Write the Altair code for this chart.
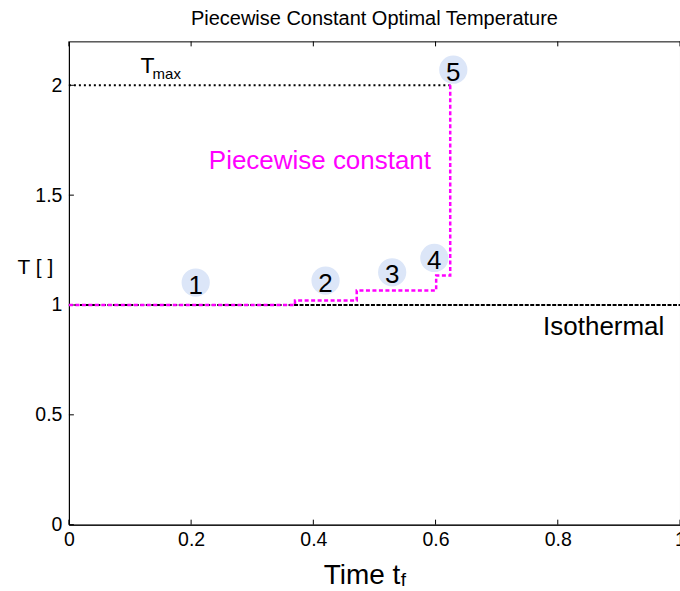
import altair as alt
import pandas as pd

# ---- data ----
step_x = [0.0, 0.37, 0.471, 0.601, 0.624, 0.627]
step_y = [1.0, 1.02, 1.066, 1.134, 2.0, 2.0]

iso_x = [0.0, 1.0]
iso_y = [1.0, 1.0]

tmax_x = [0.0, 0.626]
tmax_y = [2.0, 2.0]

circle_labels = ["1", "2", "3", "4", "5"]
circle_x = [0.2075, 0.42, 0.529, 0.598, 0.629]
circle_y = [1.102, 1.111, 1.149, 1.214, 2.071]

x_ticks = [0, 0.2, 0.4, 0.6, 0.8, 1.0]
y_ticks = [0, 0.5, 1.0, 1.5, 2.0]

ann_text = ["Piecewise constant", "Isothermal"]
ann_x = [0.229, 0.776]
ann_y = [1.619, 0.862]
ann_color = ["#ff00ff", "#000000"]

tmax_main = ["T"]
tmax_sub = ["max"]
tmax_label_x = [0.117]
tmax_label_y = [2.054]
tmax_sub_x = [0.137]
tmax_sub_y = [2.027]

xsub_text = ["f"]
xsub_x = [0.543]

FONT = "Liberation Sans"
W, H = 612, 484

xs = alt.Scale(domain=[0, 1], nice=False, zero=False)
ys = alt.Scale(domain=[0, 2.2], nice=False, zero=False)

x_axis = alt.Axis(
    values=x_ticks, format="~g", ticks=False, labelFont=FONT, labelFontSize=19.5,
    labelColor="black", labelPadding=6, labelFlush=False, domainColor="black", grid=False,
    title="Time t", titleFont=FONT, titleFontSize=28, titleFontWeight="normal",
    titleColor="black", titleX=293, titleY=59, titleBaseline="alphabetic",
    titleAlign="center")
y_axis = alt.Axis(
    values=y_ticks, format="~g", ticks=False, labelFont=FONT, labelFontSize=19.5,
    labelColor="black", labelPadding=7, labelFlush=False, domainColor="black", grid=False,
    title="T [ ]", titleFont=FONT, titleFontSize=21, titleFontWeight="normal",
    titleColor="black", titleAngle=0, titleX=-34, titleY=226,
    titleAlign="center", titleBaseline="middle")


def X(f="x"):
    return alt.X(f + ":Q", scale=xs, axis=x_axis)


def Y(f="y"):
    return alt.Y(f + ":Q", scale=ys, axis=y_axis)


step_df = pd.DataFrame({"x": step_x, "y": step_y})
iso_df = pd.DataFrame({"x": iso_x, "y": iso_y})
tmax_df = pd.DataFrame({"x": tmax_x, "y": tmax_y})
circ_df = pd.DataFrame({"x": circle_x, "y": circle_y, "t": circle_labels})
xt_df = pd.DataFrame({"x": x_ticks})
yt_df = pd.DataFrame({"y": y_ticks})
ann_df = pd.DataFrame({"x": ann_x, "y": ann_y, "t": ann_text, "c": ann_color})

iso = alt.Chart(iso_df).mark_line(color="black", strokeWidth=2, strokeDash=[4, 1.5]).encode(
    x=X(), y=Y())

tmax = alt.Chart(tmax_df).mark_line(color="black", strokeWidth=2, strokeDash=[2, 3]).encode(
    x=X(), y=Y())

step = alt.Chart(step_df).mark_line(color="#ff00ff", strokeWidth=2.5, strokeDash=[4, 2.5],
                                     interpolate="step-after").encode(x=X(), y=Y())

circles = alt.Chart(circ_df).mark_circle(color="#dce6f8", opacity=1, size=800).encode(
    x=X(), y=Y())

nums = alt.Chart(circ_df).mark_text(font=FONT, fontSize=26, color="black", baseline="middle",
                                    align="center", dy=3).encode(x=X(), y=Y(), text="t:N")

ann = alt.Chart(ann_df).mark_text(font=FONT, fontSize=26, align="left", baseline="alphabetic").encode(
    x=X(), y=Y(), text="t:N", color=alt.Color("c:N", scale=None))

tlab = alt.Chart(pd.DataFrame({"x": tmax_label_x, "y": tmax_label_y, "t": tmax_main})).mark_text(
    font=FONT, fontSize=23, align="left", baseline="alphabetic", color="black").encode(
    x=X(), y=Y(), text="t:N")

tsub = alt.Chart(pd.DataFrame({"x": tmax_sub_x, "y": tmax_sub_y, "t": tmax_sub})).mark_text(
    font=FONT, fontSize=15, align="left", baseline="alphabetic", color="black").encode(
    x=X(), y=Y(), text="t:N")

xsub = alt.Chart(pd.DataFrame({"x": xsub_x, "t": xsub_text})).mark_text(
    font=FONT, fontSize=19, align="left", baseline="alphabetic", color="black").encode(
    x=X(), y=alt.value(H + 61), text="t:N")

xt_bot = alt.Chart(xt_df).mark_rule(color="black", strokeWidth=1).encode(
    x=X(), y=alt.value(H), y2=alt.value(H - 5))
xt_top = alt.Chart(xt_df).mark_rule(color="black", strokeWidth=1).encode(
    x=X(), y=alt.value(0), y2=alt.value(5))
yt_left = alt.Chart(yt_df).mark_rule(color="black", strokeWidth=1).encode(
    y=Y(), x=alt.value(0), x2=alt.value(5))

chart = alt.layer(
    xt_bot, xt_top, yt_left, iso, tmax, step, circles, nums, ann, tlab, tsub, xsub
).properties(
    width=W, height=H,
    title=alt.TitleParams("Piecewise Constant Optimal Temperature", font=FONT, fontSize=20,
                          fontWeight="normal", color="black", offset=12, anchor="middle"),
    padding={"left": 69, "top": 41, "right": 0, "bottom": 66},
    autosize=alt.AutoSizeParams(type="none"),
).configure(background="white").configure_view(stroke="black", strokeWidth=1)

chart.save("out.html", embed_options={"renderer": "svg", "actions": False})
